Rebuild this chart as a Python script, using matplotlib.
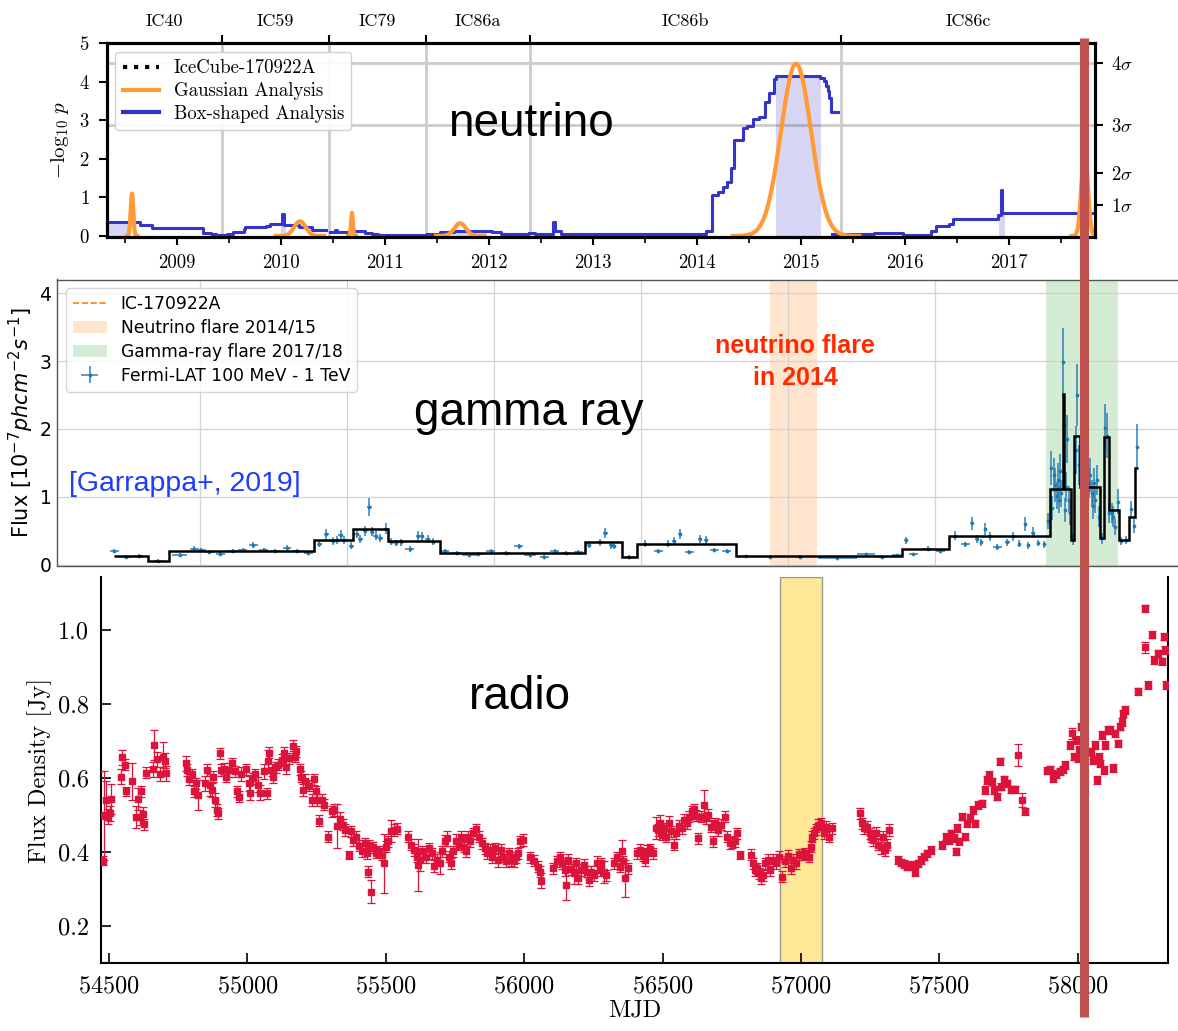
import numpy as np
import matplotlib
matplotlib.use("Agg")
import matplotlib.pyplot as plt
from matplotlib.lines import Line2D
from matplotlib.patches import Patch

plt.rcParams["font.family"] = "cmr10"
plt.rcParams["mathtext.fontset"] = "cm"
plt.rcParams["axes.formatter.use_mathtext"] = True

# ---------------------------------------------------------------- data
# IceCube detector seasons (decimal years)
season_names = ["IC40", "IC59", "IC79", "IC86a", "IC86b", "IC86c"]
season_edges = [2008.32, 2009.43, 2010.455, 2011.39, 2012.39, 2015.385, 2017.82]
year_ticks = [2009, 2010, 2011, 2012, 2013, 2014, 2015, 2016, 2017]

# box-shaped time-window analysis: step start times, -log10 p, end of season
box_ic40_t = [2008.32, 2008.64, 2008.755, 2009.25, 2009.32, 2009.37]
box_ic40_v = [0.36, 0.29, 0.20, 0.07, 0.04, 0.02]
box_ic40_end = 2009.42
box_ic59_t = [2009.40, 2009.48, 2009.54, 2009.64, 2009.65, 2009.85, 2009.89,
              2010.005, 2010.025, 2010.04, 2010.17, 2010.30]
box_ic59_v = [0.02, 0.05, 0.10, 0.17, 0.22, 0.26, 0.31, 0.57, 0.29, 0.29, 0.22, 0.16]
box_ic59_end = 2010.43
box_ic79_t = [2010.47, 2010.52, 2010.535, 2010.70, 2010.81, 2010.87, 2010.93]
box_ic79_v = [0.10, 0.15, 0.10, 0.12, 0.07, 0.04, 0.02]
box_ic79_end = 2011.38
box_ic86a_t = [2011.40, 2011.53, 2011.66, 2012.03, 2012.11]
box_ic86a_v = [0.04, 0.09, 0.14, 0.10, 0.06]
box_ic86a_end = 2012.37
box_ic86b_t = [2012.38, 2012.44, 2012.615, 2012.63, 2012.69, 2014.08, 2014.14, 2014.20,
               2014.25, 2014.29, 2014.32, 2014.35, 2014.44, 2014.48, 2014.535, 2014.59,
               2014.65, 2014.69, 2014.74, 2014.76, 2015.18, 2015.215, 2015.24, 2015.255,
               2015.265, 2015.285]
box_ic86b_v = [0.08, 0.04, 0.35, 0.14, 0.04, 0.13, 1.06, 1.15, 1.28, 1.41, 1.76, 2.49,
               2.80, 2.86, 3.03, 3.10, 3.47, 3.72, 4.07, 4.16, 4.09, 4.03, 3.90, 3.75,
               3.57, 3.21]
box_ic86b_end = 2015.35
box_ic86c_t = [2015.30, 2015.70, 2015.98, 2016.25, 2016.30, 2016.425, 2016.46,
               2016.895, 2016.92, 2016.935]
box_ic86c_v = [0.04, 0.08, 0.02, 0.14, 0.25, 0.32, 0.44, 0.55, 1.18, 0.59]
box_ic86c_end = 2017.80
# best-fit box windows (shaded)
box_win_start = [2008.32, 2010.00, 2011.64, 2014.76, 2016.90]
box_win_end = [2008.54, 2010.05, 2011.98, 2015.19, 2016.955]

# Gaussian time-window analysis: centre, width (yr), -log10 p at peak
gauss_t0 = [2008.565, 2010.18, 2010.68, 2011.72, 2014.95, 2017.725]
gauss_sigma = [0.0125, 0.055, 0.009, 0.055, 0.145, 0.030]
gauss_peak = [1.10, 0.38, 0.60, 0.33, 4.47, 2.30]

sigma_levels = [0.80, 1.64, 2.87, 4.50]
sigma_labels = [r"$1\sigma$", r"$2\sigma$", r"$3\sigma$", r"$4\sigma$"]
ic170922_year = 2017.724
ic170922_mjd = 58018.87

# Fermi-LAT light curve: MJD, flux (1e-7 ph cm-2 s-1), flux error, half bin width (d)
gam_mjd = [54708, 54749, 54791, 54858, 54930, 54980, 55004, 55031, 55068, 55110,
           55144, 55180, 55216, 55256, 55295, 55329, 55368, 55405, 55429, 55451,
           55465, 55478, 55490, 55514, 55532, 55544, 55560, 55575, 55584, 55597,
           55613, 55633, 55650, 55666, 55682, 55712, 55741, 55754, 55773, 55791,
           55832, 55872, 55915, 55945, 55988, 56039, 56083, 56121, 56170, 56206,
           56245, 56285, 56322, 56358, 56377, 56398, 56407, 56459, 56513, 56558,
           56592, 56611, 56632, 56663, 56700, 56720, 56748, 56790, 56855, 56938,
           57040, 57167, 57264, 57318, 57369, 57399, 57425, 57474, 57516, 57567,
           57601, 57624, 57641, 57655, 57669, 57684, 57711, 57745, 57765, 57786,
           57805, 57816, 57831, 57850, 57870, 57882, 57893, 57898, 57904, 57908,
           57913, 57916, 57921, 57925, 57928, 57933, 57937, 57940, 57945, 57949,
           57954, 57958, 57967, 57979, 57983, 57988, 58022, 58026, 58031, 58035,
           58040, 58044, 58051, 58058, 58068, 58078, 58084, 58092, 58099, 58105,
           58110, 58120, 58132, 58149, 58166, 58177, 58185]
gam_flux = [0.21, 0.11, 0.13, 0.06, 0.14, 0.24, 0.22, 0.19, 0.16, 0.21,
            0.22, 0.29, 0.22, 0.20, 0.25, 0.20, 0.17, 0.31, 0.45, 0.35,
            0.36, 0.44, 0.37, 0.28, 0.46, 0.38, 0.50, 0.85, 0.49, 0.43,
            0.39, 0.53, 0.34, 0.32, 0.33, 0.23, 0.43, 0.42, 0.38, 0.34,
            0.21, 0.18, 0.15, 0.16, 0.20, 0.18, 0.27, 0.15, 0.11, 0.20,
            0.18, 0.19, 0.29, 0.33, 0.47, 0.29, 0.27, 0.11, 0.31, 0.21,
            0.31, 0.35, 0.45, 0.19, 0.38, 0.36, 0.22, 0.21, 0.13, 0.12,
            0.12, 0.10, 0.16, 0.11, 0.14, 0.36, 0.16, 0.24, 0.21, 0.43,
            0.30, 0.61, 0.38, 0.33, 0.53, 0.42, 0.26, 0.33, 0.42, 0.31,
            0.60, 0.29, 0.47, 0.32, 0.30, 0.64, 1.42, 0.84, 1.32, 1.18,
            1.02, 1.25, 0.96, 1.38, 1.05, 2.99, 2.06, 0.81, 1.15, 1.85,
            0.96, 0.76, 0.37, 1.69, 2.50, 1.47, 1.20, 1.32, 1.05, 0.86,
            1.20, 0.96, 1.25, 0.71, 0.39, 2.01, 1.90, 0.76, 0.76, 0.71,
            0.56, 0.93, 0.35, 0.37, 0.82, 0.57, 1.74]
gam_ferr = [0.03, 0.03, 0.03, 0.02, 0.03, 0.04, 0.03, 0.03, 0.03, 0.03,
            0.03, 0.04, 0.03, 0.03, 0.04, 0.03, 0.03, 0.05, 0.07, 0.06,
            0.06, 0.07, 0.06, 0.05, 0.07, 0.06, 0.07, 0.13, 0.07, 0.07,
            0.06, 0.08, 0.05, 0.05, 0.05, 0.04, 0.07, 0.07, 0.06, 0.05,
            0.03, 0.03, 0.03, 0.03, 0.03, 0.03, 0.04, 0.03, 0.03, 0.03,
            0.03, 0.03, 0.04, 0.05, 0.07, 0.05, 0.04, 0.03, 0.05, 0.03,
            0.05, 0.06, 0.07, 0.03, 0.06, 0.06, 0.03, 0.03, 0.02, 0.02,
            0.02, 0.02, 0.02, 0.02, 0.02, 0.05, 0.02, 0.03, 0.03, 0.07,
            0.04, 0.10, 0.06, 0.05, 0.09, 0.07, 0.04, 0.05, 0.07, 0.05,
            0.10, 0.05, 0.08, 0.05, 0.05, 0.12, 0.25, 0.18, 0.25, 0.25,
            0.20, 0.25, 0.20, 0.25, 0.20, 0.50, 0.40, 0.18, 0.22, 0.35,
            0.20, 0.18, 0.08, 0.35, 0.45, 0.30, 0.22, 0.25, 0.20, 0.18,
            0.22, 0.20, 0.22, 0.15, 0.08, 0.35, 0.33, 0.15, 0.15, 0.15,
            0.12, 0.18, 0.06, 0.06, 0.12, 0.10, 0.33]
gam_terr = [15, 15, 15, 15, 25, 15, 15, 15, 15, 15,
            15, 15, 15, 15, 15, 15, 15, 8, 8, 8,
            8, 8, 8, 8, 8, 8, 8, 8, 8, 8,
            8, 8, 8, 8, 8, 15, 8, 8, 8, 8,
            15, 15, 25, 15, 15, 15, 15, 20, 15, 15,
            15, 15, 8, 8, 8, 8, 8, 15, 8, 15,
            8, 8, 8, 15, 8, 8, 15, 15, 8, 8,
            8, 65, 30, 15, 15, 5, 15, 15, 15, 5,
            15, 5, 5, 5, 5, 5, 15, 8, 5, 5,
            5, 5, 5, 5, 5, 3.5, 3.5, 3.5, 3.5, 3.5,
            3.5, 3.5, 3.5, 3.5, 3.5, 3.5, 3.5, 3.5, 3.5, 3.5,
            3.5, 3.5, 3.5, 3.5, 3.5, 3.5, 3.5, 3.5, 3.5, 3.5,
            3.5, 3.5, 3.5, 3.5, 3.5, 3.5, 3.5, 3.5, 3.5, 3.5,
            3.5, 3.5, 3.5, 3.5, 3.5, 3.5, 3.5]
# Bayesian-block representation of the same light curve
bb_edges = [54706, 54824, 54894, 55386, 55520, 55638, 55814, 56310, 56433, 56484,
            56822, 57386, 57547, 57889, 57934, 57937, 57962, 57973, 57992, 58060,
            58074, 58091, 58125, 58157, 58180, 58188]
bb_flux = [0.13, 0.06, 0.21, 0.36, 0.52, 0.35, 0.18, 0.34, 0.11, 0.30,
           0.13, 0.24, 0.42, 1.12, 2.52, 1.12, 0.36, 1.89, 1.15, 0.39,
           1.88, 0.80, 0.37, 0.71, 1.42]
nu_flare_mjd = (56937.8, 57096.2)
gam_flare_mjd = (57877, 58122)
radio_band_mjd = (56925, 57077)

# OVRO 15 GHz radio light curve: MJD, flux density (Jy), error (Jy)
radio_mjd = [54476, 54482, 54490, 54497, 54504, 54507, 54542, 54546, 54556, 54560,
             54583, 54597, 54604, 54611, 54615, 54621, 54625, 54632, 54660, 54663,
             54674, 54685, 54695, 54701, 54706, 54778, 54782, 54788, 54799, 54806,
             54813, 54820, 54847, 54854, 54865, 54871, 54875, 54882, 54889, 54893,
             54899, 54903, 54914, 54924, 54933, 54945, 54954, 54963, 54968, 54976,
             54993, 55004, 55010, 55021, 55028, 55038, 55046, 55060, 55069, 55074,
             55079, 55088, 55093, 55102, 55111, 55125, 55132, 55139, 55149, 55163,
             55171, 55174, 55188, 55195, 55201, 55209, 55222, 55232, 55240, 55246,
             55251, 55257, 55268, 55278, 55292, 55306, 55313, 55324, 55333, 55347,
             55354, 55368, 55375, 55382, 55393, 55403, 55413, 55424, 55431, 55435,
             55440, 55446, 55454, 55465, 55476, 55486, 55493, 55500, 55507, 55518,
             55528, 55539, 55579, 55590, 55601, 55611, 55618, 55625, 55632, 55646,
             55657, 55667, 55674, 55685, 55695, 55704, 55713, 55722, 55729, 55736,
             55743, 55754, 55764, 55771, 55782, 55788, 55796, 55806, 55815, 55826,
             55837, 55847, 55857, 55865, 55875, 55885, 55896, 55907, 55917, 55924,
             55935, 55944, 55951, 55962, 55972, 55979, 55986, 55996, 56021, 56035,
             56049, 56056, 56060, 56104, 56118, 56129, 56135, 56146, 56153, 56160,
             56171, 56181, 56188, 56194, 56204, 56215, 56226, 56236, 56243, 56254,
             56264, 56274, 56277, 56288, 56297, 56325, 56335, 56346, 56352, 56359,
             56366, 56376, 56408, 56417, 56428, 56435, 56445, 56456, 56467, 56477,
             56483, 56490, 56497, 56504, 56514, 56525, 56532, 56541, 56550, 56559,
             56569, 56577, 56587, 56596, 56608, 56614, 56621, 56628, 56638, 56649,
             56656, 56663, 56674, 56683, 56690, 56701, 56711, 56725, 56734, 56743,
             56752, 56762, 56770, 56780, 56821, 56828, 56835, 56842, 56849, 56856,
             56863, 56872, 56880, 56890, 56900, 56911, 56922, 56932, 56941, 56952,
             56963, 56973, 56983, 56994, 57005, 57014, 57028, 57035, 57042, 57049,
             57056, 57062, 57073, 57083, 57090, 57101, 57111, 57214, 57221, 57228,
             57239, 57249, 57255, 57262, 57272, 57280, 57290, 57297, 57304, 57311,
             57318, 57352, 57363, 57373, 57382, 57393, 57404, 57414, 57424, 57435,
             57446, 57455, 57469, 57511, 57524, 57534, 57542, 57552, 57559, 57566,
             57573, 57584, 57593, 57600, 57611, 57621, 57631, 57642, 57653, 57666,
             57672, 57680, 57690, 57697, 57708, 57718, 57724, 57735, 57745, 57759,
             57773, 57786, 57800, 57810, 57890, 57901, 57911, 57924, 57938, 57948,
             57956, 57973, 57980, 57987, 57994, 58000, 58007, 58014, 58028, 58048,
             58055, 58062, 58069, 58076, 58083, 58090, 58094, 58100, 58111, 58117,
             58129, 58135, 58145, 58152, 58159, 58166, 58172, 58218, 58245, 58245,
             58255, 58269, 58276, 58290, 58304, 58311, 58315, 58318]
radio_flux = [0.377, 0.500, 0.541, 0.496, 0.505, 0.543, 0.604, 0.656, 0.636, 0.564,
              0.591, 0.496, 0.543, 0.494, 0.564, 0.503, 0.476, 0.615, 0.624, 0.690,
              0.651, 0.611, 0.658, 0.647, 0.613, 0.640, 0.622, 0.597, 0.611, 0.564,
              0.586, 0.555, 0.586, 0.622, 0.582, 0.568, 0.604, 0.541, 0.514, 0.505,
              0.667, 0.622, 0.626, 0.604, 0.622, 0.640, 0.618, 0.564, 0.550, 0.611,
              0.624, 0.586, 0.561, 0.600, 0.611, 0.582, 0.561, 0.618, 0.559, 0.645,
              0.669, 0.622, 0.602, 0.629, 0.636, 0.649, 0.669, 0.631, 0.654, 0.687,
              0.658, 0.672, 0.624, 0.604, 0.568, 0.591, 0.579, 0.541, 0.597, 0.564,
              0.541, 0.485, 0.541, 0.528, 0.442, 0.510, 0.514, 0.471, 0.489, 0.474,
              0.460, 0.393, 0.456, 0.433, 0.442, 0.417, 0.402, 0.424, 0.397, 0.347,
              0.417, 0.294, 0.413, 0.399, 0.402, 0.393, 0.370, 0.415, 0.429, 0.458,
              0.460, 0.464, 0.442, 0.420, 0.406, 0.388, 0.366, 0.379, 0.402, 0.386,
              0.411, 0.397, 0.363, 0.379, 0.370, 0.402, 0.431, 0.438, 0.388, 0.370,
              0.402, 0.429, 0.420, 0.442, 0.415, 0.402, 0.442, 0.429, 0.451, 0.462,
              0.442, 0.424, 0.411, 0.397, 0.406, 0.386, 0.411, 0.379, 0.406, 0.388,
              0.375, 0.397, 0.379, 0.375, 0.386, 0.397, 0.429, 0.433, 0.386, 0.377,
              0.361, 0.347, 0.323, 0.357, 0.375, 0.386, 0.370, 0.352, 0.312, 0.379,
              0.354, 0.343, 0.370, 0.330, 0.352, 0.366, 0.347, 0.325, 0.347, 0.338,
              0.370, 0.352, 0.370, 0.347, 0.338, 0.370, 0.386, 0.361, 0.402, 0.375,
              0.330, 0.357, 0.397, 0.406, 0.390, 0.379, 0.404, 0.408, 0.397, 0.465,
              0.460, 0.480, 0.447, 0.465, 0.442, 0.478, 0.456, 0.420, 0.451, 0.471,
              0.465, 0.487, 0.478, 0.496, 0.510, 0.516, 0.498, 0.438, 0.496, 0.528,
              0.492, 0.501, 0.469, 0.429, 0.478, 0.460, 0.474, 0.496, 0.442, 0.424,
              0.426, 0.429, 0.451, 0.393, 0.393, 0.370, 0.352, 0.357, 0.343, 0.330,
              0.338, 0.370, 0.379, 0.352, 0.379, 0.370, 0.388, 0.334, 0.375, 0.390,
              0.357, 0.379, 0.370, 0.395, 0.393, 0.397, 0.388, 0.415, 0.442, 0.451,
              0.462, 0.474, 0.478, 0.451, 0.469, 0.442, 0.465, 0.505, 0.478, 0.465,
              0.469, 0.451, 0.442, 0.433, 0.453, 0.420, 0.415, 0.442, 0.406, 0.420,
              0.460, 0.379, 0.372, 0.368, 0.361, 0.366, 0.363, 0.347, 0.370, 0.379,
              0.388, 0.397, 0.406, 0.420, 0.442, 0.433, 0.451, 0.438, 0.402, 0.465,
              0.429, 0.496, 0.442, 0.478, 0.492, 0.514, 0.478, 0.528, 0.532, 0.568,
              0.595, 0.609, 0.591, 0.568, 0.550, 0.645, 0.577, 0.597, 0.586, 0.570,
              0.570, 0.663, 0.541, 0.510, 0.620, 0.624, 0.600, 0.611, 0.618, 0.624,
              0.635, 0.690, 0.721, 0.658, 0.703, 0.654, 0.676, 0.739, 0.663, 0.672,
              0.649, 0.690, 0.595, 0.658, 0.640, 0.717, 0.622, 0.690, 0.730, 0.730,
              0.627, 0.721, 0.694, 0.739, 0.752, 0.775, 0.784, 0.834, 1.058, 0.953,
              0.852, 0.987, 0.919, 0.937, 0.915, 0.982, 0.946, 0.852]
radio_err = [0.012, 0.120, 0.050, 0.020, 0.020, 0.040, 0.020, 0.020, 0.015, 0.012,
             0.050, 0.030, 0.030, 0.020, 0.015, 0.020, 0.015, 0.015, 0.020, 0.040,
             0.020, 0.020, 0.040, 0.020, 0.020, 0.020, 0.015, 0.015, 0.015, 0.015,
             0.015, 0.040, 0.020, 0.015, 0.030, 0.020, 0.015, 0.020, 0.015, 0.015,
             0.015, 0.015, 0.015, 0.015, 0.020, 0.015, 0.015, 0.015, 0.015, 0.020,
             0.015, 0.020, 0.020, 0.015, 0.015, 0.020, 0.020, 0.020, 0.015, 0.030,
             0.015, 0.015, 0.015, 0.015, 0.015, 0.015, 0.015, 0.020, 0.015, 0.015,
             0.015, 0.015, 0.015, 0.015, 0.015, 0.020, 0.015, 0.015, 0.015, 0.015,
             0.015, 0.015, 0.015, 0.015, 0.015, 0.015, 0.015, 0.060, 0.020, 0.015,
             0.015, 0.010, 0.015, 0.015, 0.015, 0.015, 0.015, 0.015, 0.015, 0.015,
             0.015, 0.030, 0.015, 0.015, 0.015, 0.015, 0.080, 0.015, 0.015, 0.030,
             0.015, 0.015, 0.015, 0.015, 0.015, 0.015, 0.070, 0.030, 0.015, 0.015,
             0.015, 0.015, 0.015, 0.015, 0.030, 0.015, 0.015, 0.020, 0.015, 0.015,
             0.015, 0.020, 0.015, 0.015, 0.015, 0.015, 0.015, 0.015, 0.015, 0.015,
             0.015, 0.015, 0.015, 0.015, 0.015, 0.015, 0.015, 0.020, 0.015, 0.015,
             0.015, 0.015, 0.015, 0.015, 0.015, 0.015, 0.015, 0.015, 0.015, 0.015,
             0.015, 0.015, 0.020, 0.015, 0.015, 0.015, 0.015, 0.015, 0.040, 0.015,
             0.015, 0.030, 0.015, 0.015, 0.015, 0.015, 0.015, 0.015, 0.015, 0.015,
             0.020, 0.015, 0.015, 0.030, 0.015, 0.015, 0.015, 0.015, 0.030, 0.015,
             0.050, 0.015, 0.015, 0.015, 0.015, 0.015, 0.015, 0.015, 0.015, 0.030,
             0.015, 0.020, 0.015, 0.015, 0.015, 0.020, 0.015, 0.015, 0.015, 0.015,
             0.015, 0.015, 0.015, 0.015, 0.015, 0.015, 0.015, 0.015, 0.015, 0.040,
             0.015, 0.015, 0.015, 0.015, 0.015, 0.015, 0.015, 0.015, 0.015, 0.015,
             0.015, 0.015, 0.015, 0.010, 0.015, 0.015, 0.015, 0.015, 0.015, 0.015,
             0.015, 0.015, 0.015, 0.015, 0.015, 0.015, 0.015, 0.015, 0.015, 0.015,
             0.015, 0.015, 0.015, 0.015, 0.015, 0.015, 0.015, 0.015, 0.015, 0.015,
             0.015, 0.015, 0.015, 0.015, 0.015, 0.015, 0.015, 0.015, 0.015, 0.015,
             0.015, 0.015, 0.015, 0.015, 0.015, 0.015, 0.020, 0.015, 0.015, 0.015,
             0.015, 0.010, 0.010, 0.010, 0.010, 0.010, 0.010, 0.010, 0.010, 0.010,
             0.010, 0.010, 0.010, 0.010, 0.010, 0.010, 0.010, 0.010, 0.010, 0.010,
             0.010, 0.010, 0.010, 0.010, 0.010, 0.010, 0.010, 0.010, 0.010, 0.010,
             0.010, 0.010, 0.010, 0.010, 0.010, 0.010, 0.010, 0.010, 0.010, 0.010,
             0.010, 0.030, 0.020, 0.010, 0.010, 0.010, 0.010, 0.010, 0.010, 0.010,
             0.010, 0.010, 0.015, 0.010, 0.010, 0.010, 0.010, 0.010, 0.010, 0.010,
             0.010, 0.010, 0.010, 0.010, 0.010, 0.010, 0.010, 0.010, 0.010, 0.010,
             0.010, 0.010, 0.010, 0.010, 0.010, 0.010, 0.010, 0.010, 0.010, 0.015,
             0.010, 0.010, 0.010, 0.010, 0.010, 0.010, 0.010, 0.010]

# ---------------------------------------------------------------- style
BLUE = "#3434c8"
ORANGE = "#ff9a35"
CRIMSON = "#dc143c"
MARK = "#c0504d"
SANS = "Liberation Sans"

W, H = 1178, 1031
fig = plt.figure(figsize=(W / 100, H / 100), dpi=100)


def fx(px):
    return px / W


def fy(py):
    return 1 - py / H


def add_axes_px(left, top, right, bottom):
    return fig.add_axes([fx(left), fy(bottom), fx(right) - fx(left), fy(top) - fy(bottom)])


# ================================================================ neutrino
ax = add_axes_px(106.5, 43.3, 1094.5, 237.3)
ax.set_xlim(season_edges[0], season_edges[-1])
ax.set_ylim(-0.035, 5.0)

for b in season_edges[1:-1]:
    ax.axvline(b, color="#cccccc", lw=2, zorder=0)
for lv in sigma_levels[2:]:
    ax.axhline(lv, color="#cccccc", lw=2, zorder=0)

box_segments = [
    (box_ic40_t, box_ic40_v, box_ic40_end),
    (box_ic59_t, box_ic59_v, box_ic59_end),
    (box_ic79_t, box_ic79_v, box_ic79_end),
    (box_ic86a_t, box_ic86a_v, box_ic86a_end),
    (box_ic86b_t, box_ic86b_v, box_ic86b_end),
    (box_ic86c_t, box_ic86c_v, box_ic86c_end),
]
for t, v, tend in box_segments:
    tt = np.append(t, tend)
    vv = np.append(v, v[-1])
    ax.plot(tt, vv, drawstyle="steps-post", color=BLUE, lw=2.2, zorder=3)

# shade the best-fit box windows under the step curve
for a, b in zip(box_win_start, box_win_end):
    for t, v, tend in box_segments:
        if t[0] - 1e-6 <= a <= tend:
            t = np.asarray(t)
            v = np.asarray(v)
            xs = np.concatenate([[a], t[(t > a) & (t < b)], [b]])
            idx = np.clip(np.searchsorted(t, xs, side="right") - 1, 0, len(v) - 1)
            ys = v[idx]
            ax.fill_between(xs, 0, ys, step="post", color=BLUE, alpha=0.2,
                            lw=0, zorder=1)
            break

for t0, s, pk in zip(gauss_t0, gauss_sigma, gauss_peak):
    xg = np.linspace(t0 - 4.2 * s, t0 + 4.2 * s, 300)
    ax.plot(xg, pk * np.exp(-0.5 * ((xg - t0) / s) ** 2), color=ORANGE, lw=3,
            zorder=4)

ax.axvline(ic170922_year, color="k", ls=":", lw=2.5, zorder=5)

ax.set_xticks(year_ticks)
ax.set_xticklabels([str(y) for y in year_ticks])
ax.set_xticks(np.arange(2008.5, 2018, 1.0), minor=True)
ax.set_yticks([0, 1, 2, 3, 4, 5])
ax.tick_params(which="major", direction="out", length=6, width=1.5,
               labelsize=13.5, pad=6)
ax.tick_params(which="minor", direction="out", length=4, width=1.2)
ax.set_ylabel(r"$-\log_{10}\,p$", fontsize=15, labelpad=6)
for sp in ax.spines.values():
    sp.set_linewidth(2.2)

ax_r2 = ax.twinx()
ax_r2.set_ylim(ax.get_ylim())
ax_r2.set_yticks(sigma_levels)
ax_r2.set_yticklabels(sigma_labels)
ax_r2.tick_params(direction="out", length=6, width=1.5, labelsize=13.5, pad=6)
for sp in ax_r2.spines.values():
    sp.set_linewidth(2.2)

ax_top = ax.twiny()
ax_top.set_xlim(ax.get_xlim())
ax_top.set_xticks(season_edges[1:-1])
ax_top.set_xticklabels([])
mids = [(a + b) / 2 for a, b in zip(season_edges[:-1], season_edges[1:])]
ax_top.set_xticks(mids, minor=True)
ax_top.set_xticklabels(season_names, minor=True)
ax_top.tick_params(which="major", direction="out", length=6, width=1.5)
ax_top.tick_params(which="minor", length=0, labelsize=13, pad=10)
for sp in ax_top.spines.values():
    sp.set_linewidth(2.2)

leg_handles = [Line2D([], [], color="k", ls=":", lw=3),
               Line2D([], [], color=ORANGE, lw=3),
               Line2D([], [], color=BLUE, lw=3)]
ax.legend(leg_handles, ["IceCube-170922A", "Gaussian Analysis", "Box-shaped Analysis"],
          loc="upper left", bbox_to_anchor=(0.009, 0.955), borderaxespad=0,
          prop={"family": "cmr10", "size": 13.5}, labelspacing=0.25,
          borderpad=0.4, handlelength=1.9, framealpha=0.9, edgecolor="#cccccc")

# ================================================================ gamma ray
axg = add_axes_px(57, 279.5, 1178, 565.5)
axg.set_xlim(54513, 58325)
axg.set_ylim(-0.01, 4.2)
axg.axvspan(*nu_flare_mjd, color="C1", alpha=0.2, lw=0, zorder=0)
axg.axvspan(*gam_flare_mjd, color="C2", alpha=0.2, lw=0, zorder=0)
axg.axvline(ic170922_mjd, color="C1", ls="--", lw=1.2, zorder=1)
axg.errorbar(gam_mjd, gam_flux, yerr=gam_ferr, xerr=gam_terr, fmt=".", ms=3.5,
             color="C0", elinewidth=1.2, alpha=0.85, zorder=2)
axg.stairs(bb_flux, bb_edges, baseline=None, color="k", lw=1.8, zorder=3)
axg.set_xticks(np.arange(55000, 58001, 500))
axg.set_yticks([0, 1, 2, 3, 4])
axg.grid(True, color="#d2d2d2", lw=0.9, zorder=0)
axg.set_axisbelow(True)
axg.tick_params(axis="x", labelbottom=False, length=0)
axg.tick_params(axis="y", length=0, pad=4, labelsize=13.5,
                labelfontfamily="DejaVu Sans")
axg.spines["right"].set_visible(False)
for sp in ("left", "top", "bottom"):
    axg.spines[sp].set_color("#555555")
    axg.spines[sp].set_linewidth(1.0)
axg.set_ylabel(r"Flux [$10^{-7}phcm^{-2}s^{-1}$]", fontsize=15,
               fontfamily="DejaVu Sans", math_fontfamily="dejavusans", labelpad=2)

g_handles = [Line2D([], [], color="C1", ls="--", lw=1.2),
             Patch(facecolor="C1", alpha=0.2, lw=0),
             Patch(facecolor="C2", alpha=0.2, lw=0),
             axg.containers[0]]
axg.legend(g_handles, ["IC-170922A", "Neutrino flare 2014/15", "Gamma-ray flare 2017/18",
                       "Fermi-LAT 100 MeV - 1 TeV"],
           loc="upper left", bbox_to_anchor=(0.008, 0.970), borderaxespad=0,
           prop={"family": "DejaVu Sans", "size": 12.3}, labelspacing=0.35)

# ================================================================ radio
axr = add_axes_px(101.4, 577, 1168, 963)
axr.set_xlim(54472, 58327)
axr.set_ylim(0.101, 1.143)
axr.axvspan(*radio_band_mjd, facecolor="#ffe999", edgecolor="#9a9a8a", lw=1.0, zorder=1)
axr.errorbar(radio_mjd, radio_flux, yerr=radio_err, fmt="s", ms=4.8, color=CRIMSON,
             ecolor=CRIMSON, elinewidth=0.9, capsize=2.6, capthick=0.9, zorder=3)
axr.set_xticks(np.arange(54500, 58001, 500))
axr.set_yticks([0.2, 0.4, 0.6, 0.8, 1.0])
axr.set_yticklabels(["0.2", "0.4", "0.6", "0.8", "1.0"])
axr.tick_params(direction="in", length=7, width=1.2, labelsize=17.5, pad=9)
axr.spines["top"].set_visible(False)
for sp in ("left", "right", "bottom"):
    axr.spines[sp].set_linewidth(1.5)
axr.set_xlabel("MJD", fontsize=17.5, labelpad=1)
axr.set_ylabel("Flux Density [Jy]", fontsize=17.5, labelpad=4)

# ================================================================ annotations
fig.text(fx(448), fy(136), "neutrino", family=SANS, fontsize=33, ha="left",
         va="baseline")
fig.text(fx(414.5), fy(425), "gamma ray", family=SANS, fontsize=33, ha="left",
         va="baseline")
fig.text(fx(469), fy(709), "radio", family=SANS, fontsize=33, ha="left",
         va="baseline")
fig.text(fx(69), fy(491), "[Garrappa+, 2019]", family=SANS, fontsize=20.5,
         color="#1e3cff", ha="left", va="baseline")
fig.text(fx(795), fy(352.7), "neutrino flare", family=SANS, fontsize=18,
         fontweight="bold", color="#ff2a00", ha="center", va="baseline")
fig.text(fx(795), fy(385), "in 2014", family=SANS, fontsize=18,
         fontweight="bold", color="#ff2a00", ha="center", va="baseline")

# IceCube-170922A alert time across all panels
fig.add_artist(Line2D([fx(1083.7), fx(1083.7)], [fy(38), fy(1017)],
                      transform=fig.transFigure, color=MARK, lw=6.5,
                      solid_capstyle="butt", zorder=20))

fig.savefig("out.png", dpi=100)
